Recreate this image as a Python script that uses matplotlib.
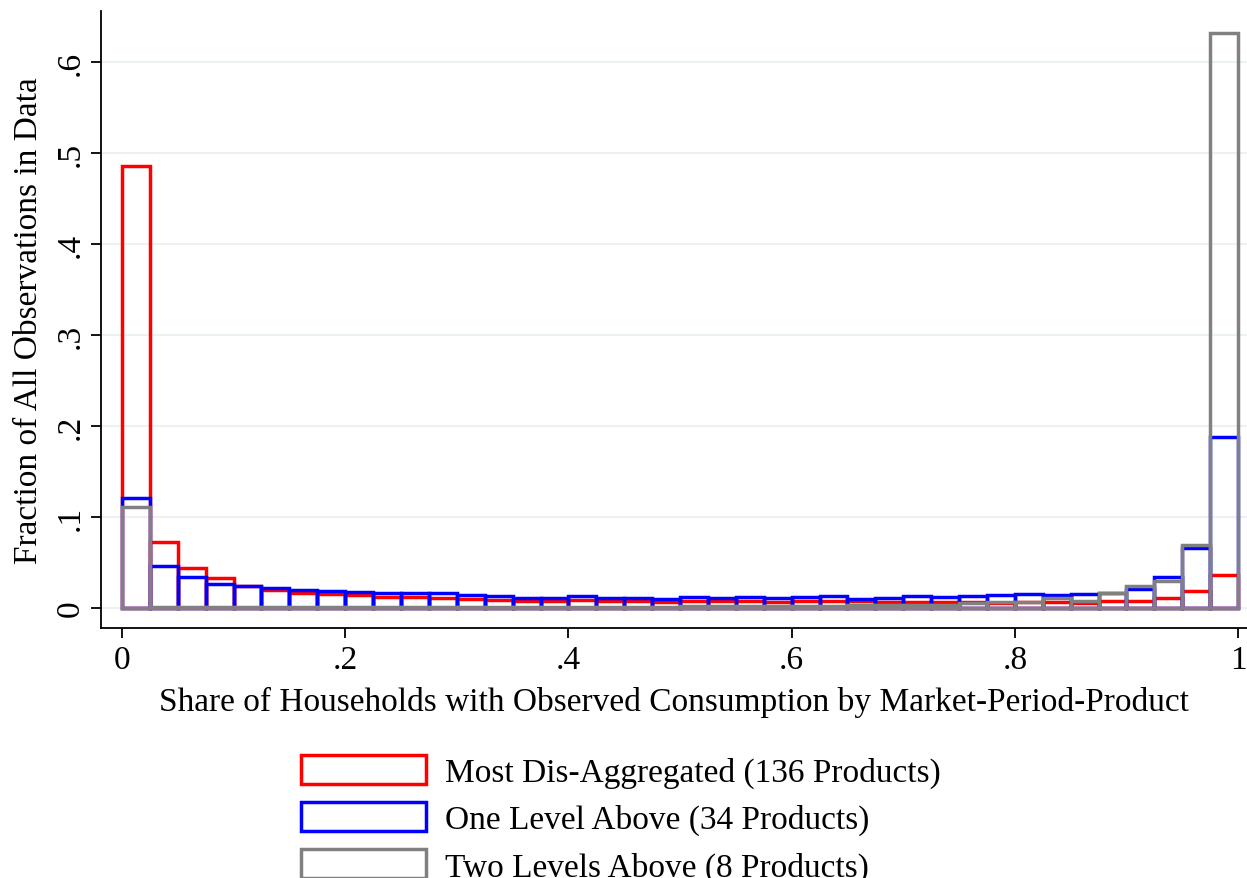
import matplotlib
matplotlib.use("Agg")
import matplotlib.pyplot as plt
import numpy as np
from matplotlib.patches import Patch

plt.rcParams['font.family'] = ['Liberation Serif', 'DejaVu Serif']

bin_width = 0.025
bin_left = np.arange(40) * bin_width

most_disagg = [0.486, 0.0725, 0.044, 0.033, 0.024, 0.020, 0.017, 0.0154, 0.0143, 0.0125,
               0.0125, 0.011, 0.0095, 0.0092, 0.008, 0.008, 0.0088, 0.0077, 0.0077, 0.0062,
               0.0077, 0.0077, 0.0077, 0.0062, 0.0073, 0.0073, 0.0073, 0.0062, 0.0069, 0.0069,
               0.0062, 0.006, 0.0062, 0.0062, 0.006, 0.0073, 0.008, 0.011, 0.0187, 0.0363]
one_level = [0.121, 0.0458, 0.0344, 0.0264, 0.0238, 0.022, 0.0198, 0.0183, 0.018, 0.016,
             0.016, 0.016, 0.0147, 0.0128, 0.0114, 0.0114, 0.0128, 0.0114, 0.011, 0.0103,
             0.012, 0.0106, 0.0117, 0.0106, 0.0117, 0.0132, 0.0099, 0.0114, 0.0132, 0.0117,
             0.0136, 0.0143, 0.0158, 0.014, 0.015, 0.0168, 0.0212, 0.0344, 0.0656, 0.188]
two_levels = [0.111, 0.0015, 0.0015, 0.0015, 0.0015, 0.0015, 0.0015, 0.0015, 0.0015, 0.0015,
              0.0015, 0.0015, 0.0015, 0.0015, 0.0015, 0.0015, 0.0015, 0.0015, 0.0015, 0.0015,
              0.002, 0.002, 0.002, 0.002, 0.0025, 0.0025, 0.003, 0.003, 0.003, 0.003,
              0.005, 0.007, 0.007, 0.0106, 0.008, 0.0168, 0.0238, 0.030, 0.0692, 0.632]

labels = ["Most Dis-Aggregated (136 Products)",
          "One Level Above (34 Products)",
          "Two Levels Above (8 Products)"]
colors = ["#ff0000", "#0000ff", "#808080"]
series = [most_disagg, one_level, two_levels]

fig = plt.figure(figsize=(12.47, 8.79), dpi=100)
ax = fig.add_axes([101/1247, 1 - 629/879, 1 - 101/1247, (629 - 12)/879])

for vals, col in zip(series, colors):
    ax.bar(bin_left, vals, width=bin_width, align='edge', fill=False,
           edgecolor=col, linewidth=2.5, zorder=3)

ax.set_xlim(-0.0188, 1.008)
ax.set_ylim(-0.022, 0.656)
yt = [0, 0.1, 0.2, 0.3, 0.4, 0.5, 0.6]
ax.set_yticks(yt)
ax.set_yticklabels(["0", ".1", ".2", ".3", ".4", ".5", ".6"], rotation=90, va='center')
xt = [0, 0.2, 0.4, 0.6, 0.8, 1.0]
ax.set_xticks(xt)
ax.set_xticklabels(["0", ".2", ".4", ".6", ".8", "1"])
ax.grid(axis='y', color='#eaf2f3', linewidth=1.5, zorder=0)
ax.set_axisbelow(True)
for s in ['top', 'right']:
    ax.spines[s].set_visible(False)
ax.spines['left'].set_linewidth(1.3)
ax.spines['bottom'].set_linewidth(1.3)
ax.tick_params(axis='both', labelsize=24, length=7, width=1.3, direction='out')
ax.tick_params(axis='x', pad=5)
ax.tick_params(axis='y', pad=4)
ax.set_xlabel("Share of Households with Observed Consumption by Market-Period-Product", fontsize=24, labelpad=8)
ax.set_ylabel("Fraction of All Observations in Data", fontsize=24, labelpad=8)

handles = [Patch(facecolor='white', edgecolor=c, linewidth=2.5) for c in colors]
fig.legend(handles, labels, loc='upper left', bbox_to_anchor=(288/1247, 1 - 743/879),
           fontsize=24, frameon=False, handlelength=3.75, handleheight=0.95,
           labelspacing=0.42, handletextpad=0.55, borderaxespad=0)

fig.savefig("out.png", dpi=100)
